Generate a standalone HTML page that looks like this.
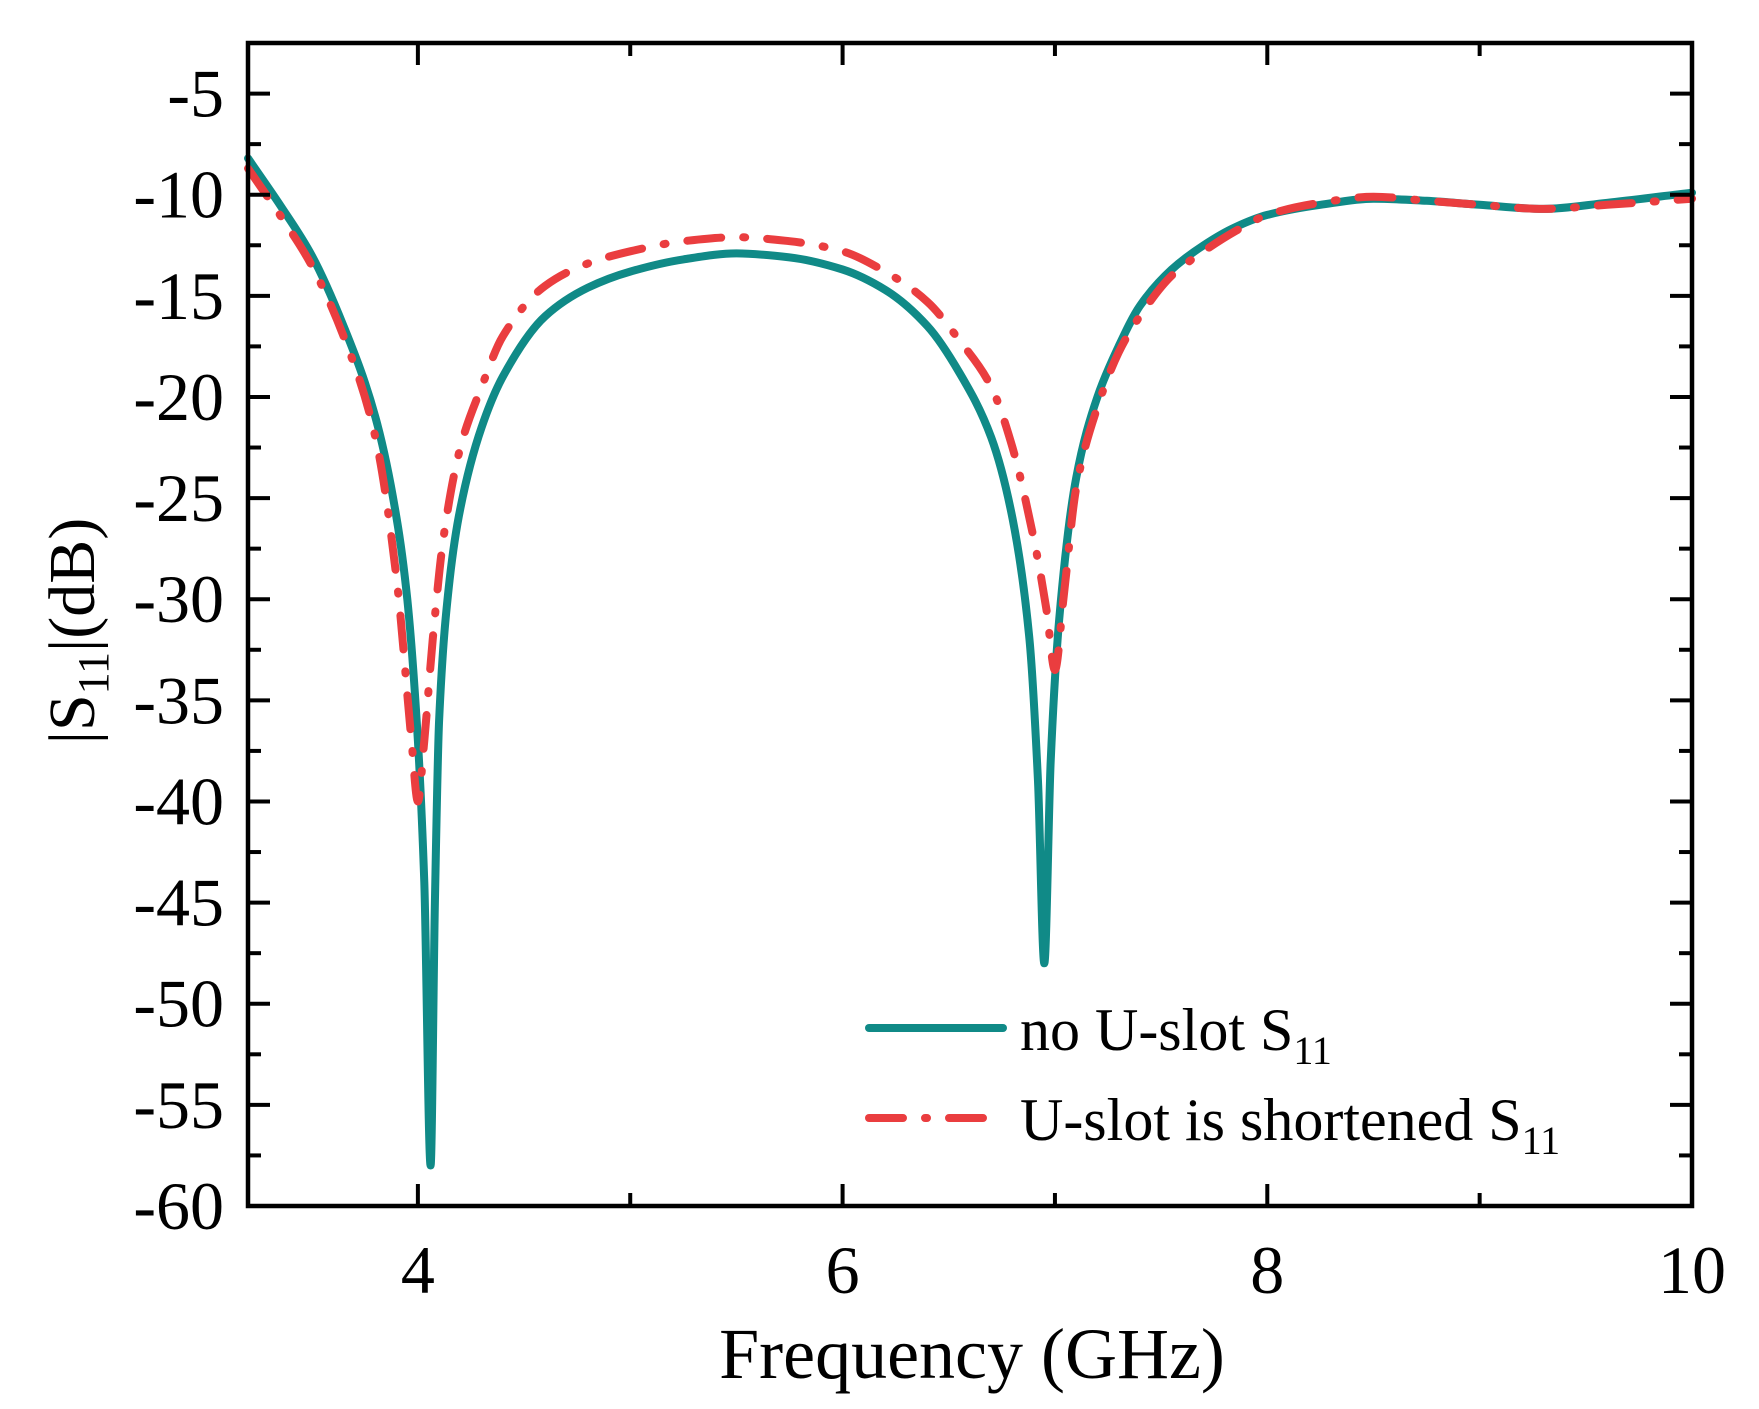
<!DOCTYPE html>
<html><head><meta charset="utf-8"><style>
html,body{margin:0;padding:0;background:#fff;}
svg{display:block;font-family:"Liberation Serif",serif;}
</style></head><body>
<svg id="chart" width="1759" height="1409" viewBox="0 0 1759 1409">
<g id="grid"></g>
<g id="series"></g>
<rect x="248" y="43" width="1444" height="1163" fill="none" stroke="#000" stroke-width="4.5"/>
<g id="axes"></g>
<text x="972" y="1378" font-size="72" text-anchor="middle">Frequency (GHz)</text>
<text transform="translate(94,631) rotate(-90)" font-size="66" text-anchor="middle">|S<tspan font-size="44" dy="14">11</tspan><tspan dy="-14">|(dB)</tspan></text>
<g>
<line x1="869" y1="1028" x2="1003" y2="1028" stroke="#108a87" stroke-width="8" stroke-linecap="round"/>
<text x="1020" y="1050" font-size="60">no U-slot S<tspan font-size="40" dy="14">11</tspan></text>
<line x1="869" y1="1118" x2="1003" y2="1118" stroke="#ea3d3f" stroke-width="8" stroke-linecap="round" stroke-dasharray="34,22,2,22"/>
<text x="1020" y="1140" font-size="60">U-slot is shortened S<tspan font-size="40" dy="14">11</tspan></text>
</g>
</svg>
<script>
const xFreq1 = [3.2,3.35,3.5,3.65,3.8,3.9,3.95,4.0,4.03,4.06,4.08,4.1,4.15,4.2,4.3,4.4,4.6,4.8,5.0,5.25,5.5,5.75,6.0,6.2,6.4,6.55,6.7,6.8,6.88,6.92,6.95,6.98,7.02,7.1,7.2,7.3,7.4,7.55,7.7,7.85,8.0,8.25,8.5,8.75,9.0,9.3,9.6,10.0];
const noUslot = [-8.2,-10.5,-13,-16.5,-21,-26,-30,-37,-44,-58,-45,-36,-29,-25.5,-21.5,-19,-16,-14.6,-13.8,-13.2,-12.9,-13.1,-13.7,-14.7,-16.5,-18.8,-22,-26,-32,-39,-48,-38,-31,-24,-20,-17.5,-15.5,-13.7,-12.5,-11.6,-11,-10.5,-10.2,-10.3,-10.5,-10.7,-10.4,-9.9];
const xFreq2 = [3.2,3.35,3.5,3.65,3.8,3.9,3.97,4.0,4.03,4.07,4.12,4.2,4.3,4.4,4.6,4.8,5.0,5.25,5.5,5.75,6.0,6.2,6.4,6.55,6.7,6.8,6.9,6.96,7.0,7.04,7.1,7.2,7.3,7.4,7.55,7.7,7.85,8.0,8.25,8.5,8.75,9.0,9.3,9.6,10.0];
const shortened = [-8.7,-11,-13.5,-17,-22,-29,-37,-40,-37,-32,-27,-22.5,-19.5,-17,-14.5,-13.4,-12.8,-12.3,-12.1,-12.3,-12.8,-13.8,-15.3,-17.2,-19.5,-22.5,-27,-30.5,-33.5,-30,-24.5,-20.5,-17.8,-16,-14,-12.8,-11.8,-11,-10.4,-10.1,-10.3,-10.5,-10.7,-10.5,-10.2];
const yTicks = [-5,-10,-15,-20,-25,-30,-35,-40,-45,-50,-55,-60];
const xTicks = [4,6,8,10];
const NS="http://www.w3.org/2000/svg";
const L=248,R=1692,T=43,B=1206,XMIN=3.2,XMAX=10,YMIN=-60,YMAX=-2.5;
function sx(v){return L+(v-XMIN)/(XMAX-XMIN)*(R-L);}
function sy(v){return B-(v-YMIN)/(YMAX-YMIN)*(B-T);}
function mk(tag,attrs,parent){const e=document.createElementNS(NS,tag);for(const k in attrs)e.setAttribute(k,attrs[k]);parent.appendChild(e);return e;}
const axes=document.getElementById('axes');
for(let v=-60;v<=-2.5;v+=2.5){
  const major=(v%5===0);const len=major?22:13;const y=sy(v);
  const t1=mk('line',{x1:L,y1:y,x2:L+len,y2:y,stroke:'#000','stroke-width':4},axes);
  
  
  const t2=mk('line',{x1:R,y1:y,x2:R-len,y2:y,stroke:'#000','stroke-width':4},axes);
  
  
}
yTicks.forEach(v=>{
  const t=mk('text',{x:224,y:sy(v)+23,'font-size':68,'text-anchor':'end'},axes);
  t.textContent=String(v);
  
  
});
for(let v=4;v<=10;v+=1){
  const major=(v%2===0);const len=major?22:13;const x=sx(v);
  const t1=mk('line',{x1:x,y1:B,x2:x,y2:B-len,stroke:'#000','stroke-width':4},axes);
  
  
  const t2=mk('line',{x1:x,y1:T,x2:x,y2:T+len,stroke:'#000','stroke-width':4},axes);
  
  
}
xTicks.forEach(v=>{
  const t=mk('text',{x:sx(v),y:1293,'font-size':68,'text-anchor':'middle'},axes);
  t.textContent=String(v);
  
  
});
const ser=document.getElementById('series');
function pathOf(xs,ys){
  const n=xs.length,d=[],m=[];
  for(let i=0;i<n-1;i++)d.push((ys[i+1]-ys[i])/(xs[i+1]-xs[i]));
  m[0]=d[0];m[n-1]=d[n-2];
  for(let i=1;i<n-1;i++){
    if(d[i-1]*d[i]<=0)m[i]=0;
    else{const h0=xs[i]-xs[i-1],h1=xs[i+1]-xs[i];const w1=2*h1+h0,w2=h1+2*h0;m[i]=(w1+w2)/(w1/d[i-1]+w2/d[i]);}
  }
  let p='M'+sx(xs[0]).toFixed(1)+','+sy(ys[0]).toFixed(1);
  for(let i=0;i<n-1;i++){
    const h=xs[i+1]-xs[i];
    const c1x=xs[i]+h/3,c1y=ys[i]+m[i]*h/3,c2x=xs[i+1]-h/3,c2y=ys[i+1]-m[i+1]*h/3;
    p+=' C'+sx(c1x).toFixed(1)+','+sy(c1y).toFixed(1)+' '+sx(c2x).toFixed(1)+','+sy(c2y).toFixed(1)+' '+sx(xs[i+1]).toFixed(1)+','+sy(ys[i+1]).toFixed(1);
  }
  return p;
}
const p1=mk('path',{d:pathOf(xFreq1,noUslot),fill:'none',stroke:'#108a87','stroke-width':8,'stroke-linejoin':'round','stroke-linecap':'round'},ser);


const p2=mk('path',{d:pathOf(xFreq2,shortened),fill:'none',stroke:'#ea3d3f','stroke-width':8,'stroke-linejoin':'round','stroke-linecap':'round','stroke-dasharray':'34,22,2,22'},ser);


</script>
</body></html>
